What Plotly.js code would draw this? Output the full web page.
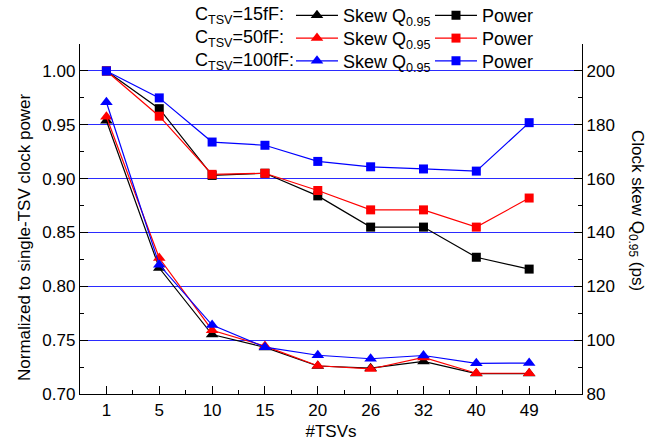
<!DOCTYPE html>
<html>
<head>
<meta charset="utf-8">
<script src="https://cdn.plot.ly/plotly-3.0.1.min.js"></script>
<style>html,body{margin:0;padding:0;background:#fff;}#chart{width:657px;height:442px;}</style>
</head>
<body>
<div id="chart"></div>
<script>
// ---- data ----
const tsvs = ['1', '5', '10', '15', '20', '26', '32', '40', '49'];

const power15  = [1.000, 0.965, 0.903, 0.905, 0.884, 0.855, 0.855, 0.827, 0.816];
const power50  = [1.000, 0.958, 0.904, 0.905, 0.889, 0.871, 0.871, 0.855, 0.882];
const power100 = [1.000, 0.975, 0.934, 0.931, 0.916, 0.911, 0.909, 0.907, 0.952];

const skew15  = [181.5, 126.8, 102.1, 97.3, 90.4, 89.6, 92.1, 87.6, 87.6];
const skew50  = [183.0, 130.5, 103.7, 97.8, 90.5, 89.3, 93.6, 87.7, 87.7];
const skew100 = [188.4, 128.0, 105.6, 97.4, 94.4, 93.1, 94.3, 91.4, 91.5];

const capLabels = ['C<sub>TSV</sub>=15fF:', 'C<sub>TSV</sub>=50fF:', 'C<sub>TSV</sub>=100fF:'];
const skewName = 'Skew Q<sub>0.95</sub>';
const powerName = 'Power';

// ---- build ----
const FONT = '"Liberation Sans", Arial, sans-serif';
const xIdx = tsvs.map((_, i) => i);
const colors = ['#000000', '#ff0000', '#0000ff'];
const powers = [power15, power50, power100];
const skews = [skew15, skew50, skew100];
const legends = ['legend', 'legend2', 'legend3'];

const traces = [];
for (let k = 0; k < 3; k++) {
  traces.push({
    x: xIdx, y: skews[k], yaxis: 'y2', name: skewName, legend: legends[k],
    mode: 'lines+markers', line: {color: colors[k], width: 1.2},
    marker: {symbol: 'triangle-up', size: 11, color: colors[k]}
  });
  traces.push({
    x: xIdx, y: powers[k], yaxis: 'y', name: powerName, legend: legends[k],
    mode: 'lines+markers', line: {color: colors[k], width: 1.2},
    marker: {symbol: 'square', size: 9, color: colors[k]}
  });
}

const rowY = [1.081, 1.016, 0.951];
const legX = 0.4203;
function mkLegend(y) {
  return {
    orientation: 'h', x: legX, xanchor: 'left', y: y, yanchor: 'middle',
    bgcolor: 'rgba(0,0,0,0)', borderwidth: 0,
    font: {family: FONT, size: 18, color: '#000'},
    itemwidth: 42,
    entrywidth: 82, entrywidthmode: 'pixels', traceorder: 'normal',
    itemclick: false
  };
}

const annotations = capLabels.map((t, k) => ({
  text: t, xref: 'paper', yref: 'paper', x: 0.225, y: rowY[k],
  xanchor: 'left', yanchor: 'middle', showarrow: false,
  font: {family: FONT, size: 18, color: '#000'}
}));
annotations.push({
  text: 'Normalized to single-TSV clock power', xref: 'paper', yref: 'paper',
  x: -0.112, y: 0.448, xanchor: 'center', yanchor: 'middle', textangle: -90,
  showarrow: false, font: {family: FONT, size: 17, color: '#000'}
});
annotations.push({
  text: 'Clock skew Q<sub>0.95</sub> (ps)', xref: 'paper', yref: 'paper',
  x: 1.108, y: 0.525, xanchor: 'center', yanchor: 'middle', textangle: 90,
  showarrow: false, font: {family: FONT, size: 17, color: '#000'}
});

const layout = {
  width: 657, height: 442,
  margin: {l: 80, r: 75, t: 43.5, b: 48, pad: 0, autoexpand: false},
  paper_bgcolor: '#fff', plot_bgcolor: '#fff',
  font: {family: FONT, size: 17, color: '#000'},
  showlegend: true,
  legend: mkLegend(rowY[0]), legend2: mkLegend(rowY[1]), legend3: mkLegend(rowY[2]),
  xaxis: {
    range: [-0.5, 9], tickmode: 'array', tickvals: xIdx, ticktext: tsvs,
    ticks: 'inside', ticklen: 8, tickwidth: 1, tickcolor: '#000',
    minor: {tickmode: 'linear', tick0: 0.5, dtick: 1, ticks: 'inside', ticklen: 4, tickcolor: '#000', showgrid: false},
    showline: true, linecolor: '#000', linewidth: 1.2, showgrid: false, zeroline: false,
    title: {text: '#TSVs', font: {family: FONT, size: 17}, standoff: 6},
    tickfont: {family: FONT, size: 17}
  },
  yaxis: {
    range: [0.7, 1.02505], tickmode: 'linear', tick0: 0.7, dtick: 0.05, tickformat: '.2f',
    ticks: 'inside', ticklen: 8, tickwidth: 1, tickcolor: '#000',
    minor: {dtick: 0.025, ticks: 'inside', ticklen: 4, tickcolor: '#000', showgrid: false},
    showline: true, linecolor: '#000', linewidth: 1.2,
    showgrid: true, gridcolor: '#2b2bff', gridwidth: 1, zeroline: false,
    tickfont: {family: FONT, size: 17}
  },
  yaxis2: {
    overlaying: 'y', side: 'right', anchor: 'x',
    range: [80, 210.02], tickmode: 'linear', tick0: 80, dtick: 20,
    ticks: 'inside', ticklen: 8, tickwidth: 1, tickcolor: '#000',
    minor: {dtick: 10, ticks: 'inside', ticklen: 4, tickcolor: '#000', showgrid: false},
    showline: true, linecolor: '#000', linewidth: 1.2, showgrid: false, zeroline: false,
    tickfont: {family: FONT, size: 17}
  },
  annotations: annotations
};

Plotly.newPlot('chart', traces, layout, {displayModeBar: false, staticPlot: true});
</script>
</body>
</html>
